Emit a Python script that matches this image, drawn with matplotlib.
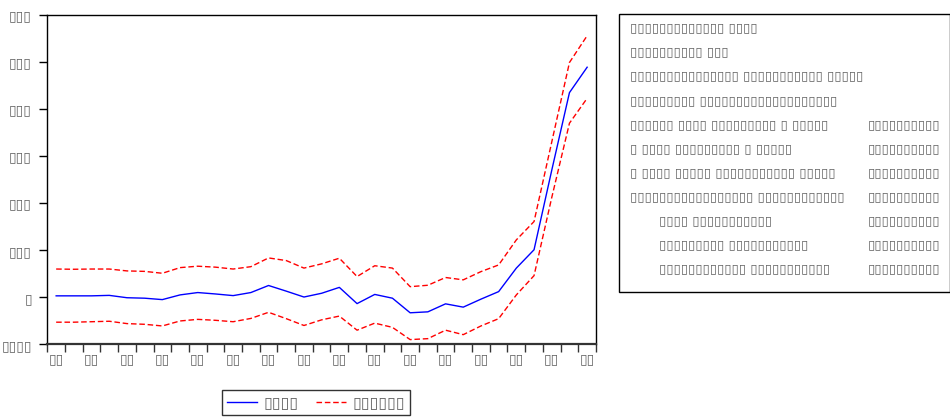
import matplotlib
matplotlib.use('Agg')
import matplotlib.pyplot as plt
import numpy as np
from matplotlib.ticker import FixedLocator

# forecast (blue) and +/- 2 S.E. band (red dashed), 31 observations
forecast = [3, 3, 3, 4, -1, -2, -5, 5, 10, 7, 3.5, 10, 25, 13, 0.5, 8.5,
            21, -13.5, 6, -2, -33, -31, -14, -21, -4, 12, 62, 101, 270, 435, 489]
upper = [60, 59.5, 60, 60, 56, 55, 51, 63, 66, 64, 60, 65, 83.6, 78, 62, 71,
         83, 44, 67, 62, 22.5, 25.5, 42, 37, 54.5, 68.7, 122, 161, 330, 499, 556]
lower = [-53, -53, -52, -51, -56, -57.5, -61, -50.4, -47, -49, -52, -45, -32, -45.5, -60, -48,
         -40, -70, -55, -64, -90, -88, -70, -79.5, -61, -45.5, 5, 46, 212, 370, 423]

# every label came out as empty glyph boxes in the source picture,
# so they are kept as boxes (word lengths in boxes)
BOX = '\u25af'
y_ticks = [-100, 0, 100, 200, 300, 400, 500, 600]
x_labels = [BOX * 2] * 16
legend_labels = [BOX * 4, BOX * 6]

stats_words = [
    [13, 4],
    [10, 3],
    [15, 11, 5],
    [9, 19],
    [6, 4, 9, 1, 5],
    [1, 4, 9, 1, 5],
    [1, 4, 5, 11, 5],
    [17, 12],
    [4, 11],
    [9, 11],
    [12, 11],
]
stats_indent = [0, 0, 0, 0, 0, 0, 0, 0, 1, 1, 1]
stats_value_len = [0, 0, 0, 0, 10, 10, 10, 10, 10, 10, 10]


def boxes(words):
    return ' '.join(BOX * n for n in words)


W, H = 950, 419
fig = plt.figure(figsize=(W / 100, H / 100), dpi=100)
ax = fig.add_axes([47.3 / W, 1 - 344.3 / H, (596 - 47.3) / W, (344.3 - 15) / H])

x = np.arange(len(forecast))
ax.plot(x, forecast, color='#0000ff', lw=1.0, label=legend_labels[0])
ax.plot(x, upper, color='#ff0000', lw=1.0, ls=(0, (4, 2)), label=legend_labels[1])
ax.plot(x, lower, color='#ff0000', lw=1.0, ls=(0, (4, 2)))

ax.set_xlim(-0.5, len(forecast) - 0.5)
ax.set_ylim(y_ticks[0], y_ticks[-1])
ax.set_yticks(y_ticks)
ax.set_yticklabels([BOX * len(str(v)) for v in y_ticks], fontsize=10)
ax.set_xticks(x[::2])
ax.set_xticklabels(x_labels, fontsize=10)
ax.xaxis.set_minor_locator(FixedLocator(np.arange(-0.5, len(forecast), 1.0)))
ax.tick_params(axis='x', which='major', length=0, pad=6)
ax.tick_params(axis='x', which='minor', length=6, direction='out', width=1, color='#333333')
ax.tick_params(axis='y', length=6, direction='out', width=1, pad=5)
ax.tick_params(labelcolor='#666666')
for s in ['left', 'top', 'right']:
    ax.spines[s].set_linewidth(1.0)
ax.spines['bottom'].set_linewidth(1.6)
ax.spines['bottom'].set_color('#333333')

leg = fig.legend(loc='lower left', bbox_to_anchor=(222 / W, 1 - 415 / H), ncol=2,
                 fontsize=11.5, frameon=True, fancybox=False, edgecolor='black',
                 handlelength=1.9, handletextpad=0.4, columnspacing=1.1,
                 borderpad=0.3, borderaxespad=0)
leg.get_frame().set_linewidth(1.0)
for t in leg.get_texts():
    t.set_color('#666666')

# statistics box on the right
box = plt.Rectangle((619 / W, 1 - 292 / H), (W - 619) / W, (292 - 14) / H,
                    transform=fig.transFigure, fill=False, edgecolor='black', lw=1.0)
fig.patches.append(box)
for i, words in enumerate(stats_words):
    yy = 1 - (28 + i * 24.1) / H
    xx = (630 + stats_indent[i] * 29) / W
    fig.text(xx, yy, boxes(words), fontsize=9.5, color='#666666', va='center', ha='left')
    if stats_value_len[i]:
        fig.text(940 / W, yy, BOX * stats_value_len[i], fontsize=9.5, color='#666666',
                 va='center', ha='right')

fig.savefig('out.png', dpi=100)
